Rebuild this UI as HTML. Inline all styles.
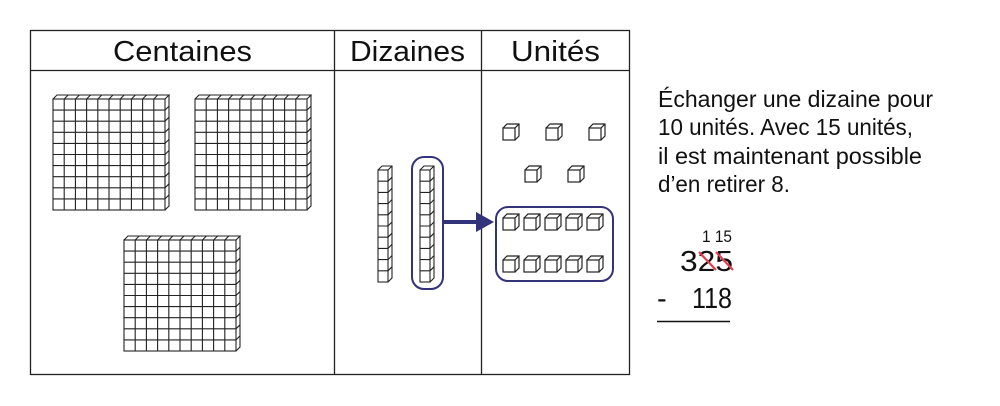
<!DOCTYPE html>
<html><head><meta charset="utf-8"><style>
body{margin:0;background:#fff}
svg{display:block}
text{font-family:"Liberation Sans",sans-serif;fill:#111}
</style></head><body>
<svg width="1000" height="406" viewBox="0 0 1000 406">
<defs>
<g id="flat" fill="none" stroke="#222" stroke-width="1.1">
<rect x="0" y="4" width="112" height="111" fill="#fff"/>
<path d="M11.2 4V115M22.4 4V115M33.6 4V115M44.8 4V115M56 4V115M67.2 4V115M78.4 4V115M89.6 4V115M100.8 4V115"/>
<path d="M0 15.1H112M0 26.2H112M0 37.3H112M0 48.4H112M0 59.5H112M0 70.6H112M0 81.7H112M0 92.8H112M0 103.9H112"/>
<path d="M0 4L4 0H116L112 4M112 115L116 111V0"/>
<path d="M11.2 4l4-4M22.4 4l4-4M33.6 4l4-4M44.8 4l4-4M56 4l4-4M67.2 4l4-4M78.4 4l4-4M89.6 4l4-4M100.8 4l4-4M112 15.1l4-4M112 26.2l4-4M112 37.3l4-4M112 48.4l4-4M112 59.5l4-4M112 70.6l4-4M112 81.7l4-4M112 92.8l4-4M112 103.9l4-4"/>
</g>
<g id="rod" fill="none" stroke="#222" stroke-width="1.1">
<rect x="0" y="4" width="10" height="112" fill="#fff"/>
<path d="M0 15.2H10M0 26.4H10M0 37.6H10M0 48.8H10M0 60H10M0 71.2H10M0 82.4H10M0 93.6H10M0 104.8H10"/>
<path d="M0 4L4 0H14V112L10 116M10 4L14 0"/>
<path d="M10 15.2l4-4M10 26.4l4-4M10 37.6l4-4M10 48.8l4-4M10 60l4-4M10 71.2l4-4M10 82.4l4-4M10 93.6l4-4M10 104.8l4-4"/>
</g>
<g id="cube" fill="none" stroke="#222" stroke-width="1.2">
<rect x="0" y="4" width="12" height="12" fill="#fff"/>
<path d="M0 4L4 0H16V12L12 16M12 4L16 0"/>
</g>
</defs>
<g fill="none" stroke="#222" stroke-width="1.3">
<rect x="30.5" y="30.5" width="599" height="344"/>
<path d="M30 70.5H630M334.5 30V375M481.5 30V375"/>
</g>
<text x="113" y="61" font-size="29" textLength="139" lengthAdjust="spacingAndGlyphs">Centaines</text>
<text x="350" y="61" font-size="29" textLength="115" lengthAdjust="spacingAndGlyphs">Dizaines</text>
<text x="511" y="61" font-size="29" textLength="89" lengthAdjust="spacingAndGlyphs">Unités</text>
<use href="#flat" x="53" y="95"/>
<use href="#flat" x="195" y="95"/>
<use href="#flat" x="124" y="236"/>
<use href="#rod" x="378" y="166"/>
<use href="#rod" x="420" y="166"/>
<rect x="412" y="157" width="31" height="132" rx="12" fill="none" stroke="#33337a" stroke-width="2"/>
<path d="M443 222H478" stroke="#33337a" stroke-width="4"/>
<path d="M476 212L494 222L476 232Z" fill="#33337a"/>
<use href="#cube" x="503" y="124"/>
<use href="#cube" x="546" y="124"/>
<use href="#cube" x="589" y="124"/>
<use href="#cube" x="525" y="166"/>
<use href="#cube" x="568" y="166"/>
<rect x="496" y="207" width="117" height="74" rx="12" fill="none" stroke="#33337a" stroke-width="2"/>
<use href="#cube" x="503" y="214"/><use href="#cube" x="524" y="214"/><use href="#cube" x="545" y="214"/><use href="#cube" x="566" y="214"/><use href="#cube" x="587" y="214"/>
<use href="#cube" x="503" y="256"/><use href="#cube" x="524" y="256"/><use href="#cube" x="545" y="256"/><use href="#cube" x="566" y="256"/><use href="#cube" x="587" y="256"/>
<g font-size="23" lengthAdjust="spacingAndGlyphs">
<text x="658" y="107" textLength="275" lengthAdjust="spacingAndGlyphs">Échanger une dizaine pour</text>
<text x="658" y="135" textLength="255" lengthAdjust="spacingAndGlyphs">10 unités. Avec 15 unités,</text>
<text x="658" y="164" textLength="264" lengthAdjust="spacingAndGlyphs">il est maintenant possible</text>
<text x="658" y="192" textLength="132" lengthAdjust="spacingAndGlyphs">d’en retirer 8.</text>
</g>
<text x="702" y="242" font-size="17" textLength="30" lengthAdjust="spacingAndGlyphs">1 15</text>
<text x="680" y="271" font-size="29" textLength="53" lengthAdjust="spacingAndGlyphs">325</text>
<path d="M699 252L716 270M716 252L733 270" stroke="#e04050" stroke-width="2.2"/>
<text x="657" y="308" font-size="29">-</text>
<text x="692" y="308" font-size="29" textLength="40" lengthAdjust="spacingAndGlyphs">118</text>
<path d="M657 321.5H730" stroke="#111" stroke-width="1.5"/>
</svg>
</body></html>
